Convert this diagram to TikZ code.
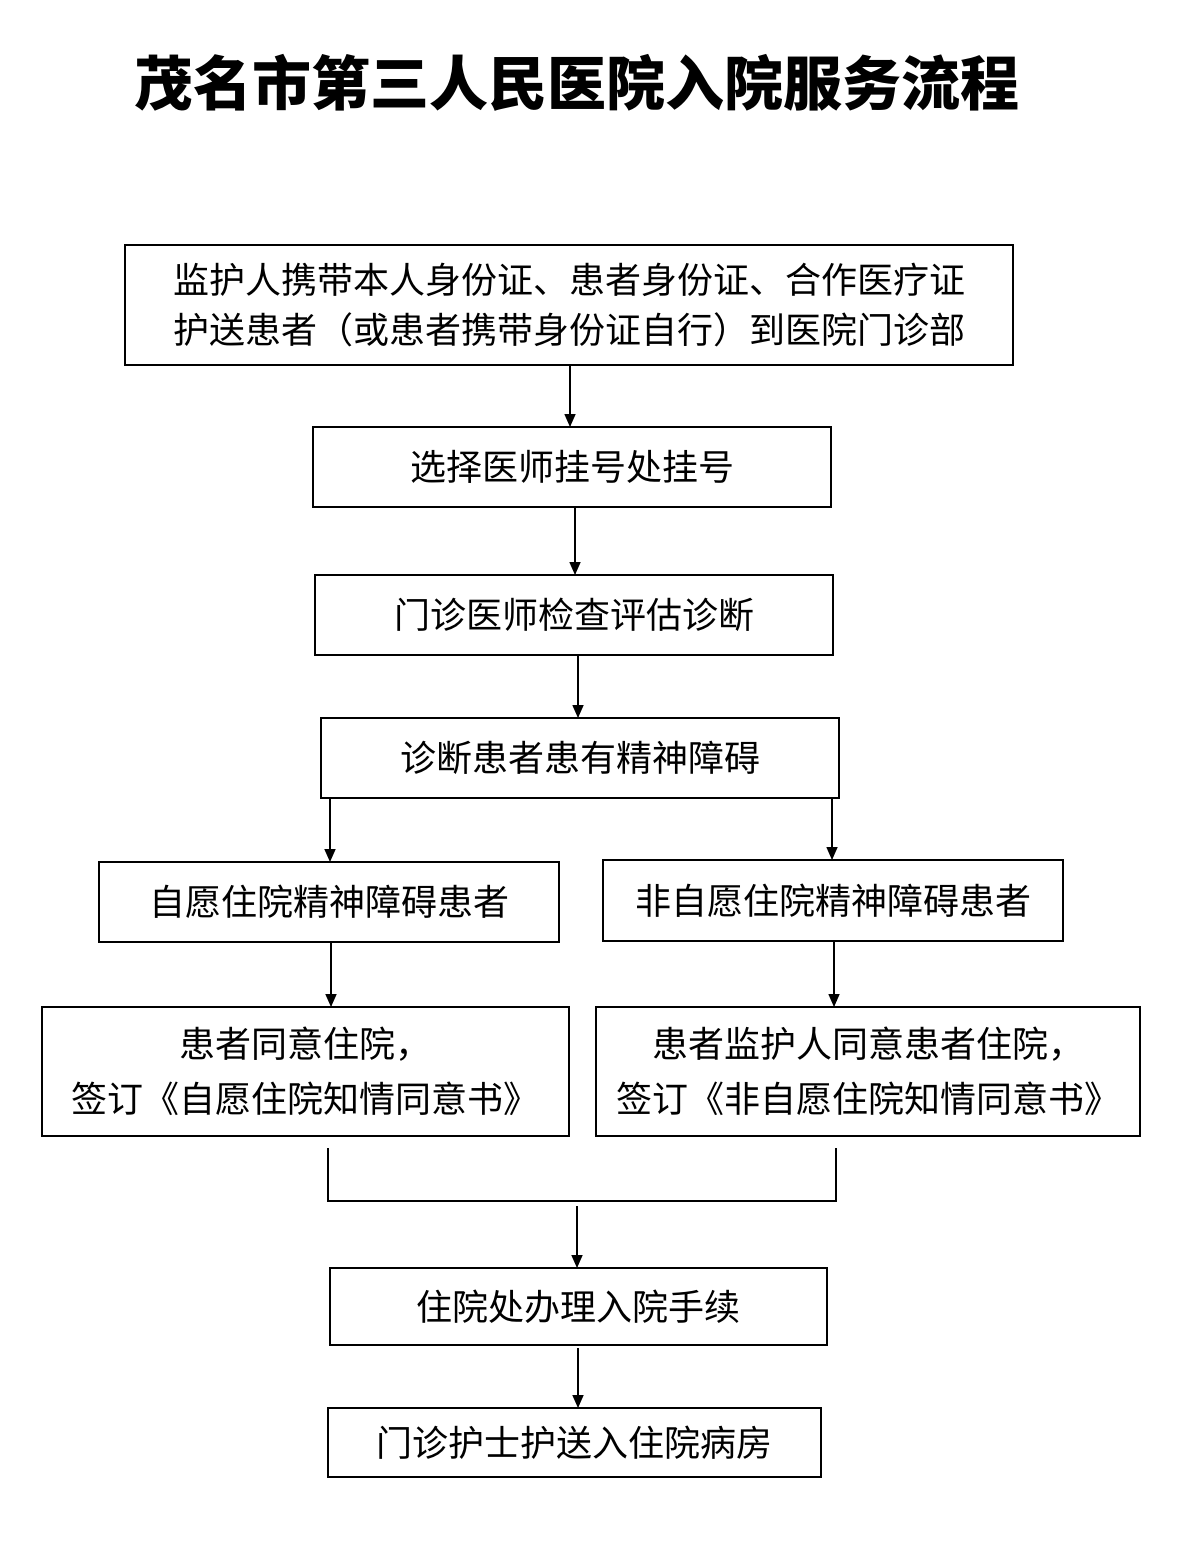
\documentclass[tikz,border=0pt]{standalone}
\usepackage{fontspec}
\setmainfont{Noto Sans CJK SC}
\usetikzlibrary{arrows.meta}
\begin{document}
\begin{tikzpicture}[x=1pt,y=-1pt,
 arr/.style={line width=1.6pt,-{Triangle[length=13pt,width=11pt]}},
 ln/.style={line width=1.6pt}]
\useasboundingbox (0,0) rectangle (1178,1544);
\fill[white] (0,0) rectangle (1178,1544);
\node[font=\fontsize{59}{62}\selectfont\bfseries] (t) at (577,83) {茂名市第三人民医院入院服务流程};
\newcommand\bx[7][50]{\draw[ln] (#3,#4) rectangle (#5,#6); \node[align=center,font=\fontsize{36}{#1}\selectfont] (#2) at ({(#3+#5)/2},{(#4+#6)/2}) {#7};}
\bx{a}{125}{245}{1013}{365}{监护人携带本人身份证、患者身份证、合作医疗证\\护送患者（或患者携带身份证自行）到医院门诊部}
\bx{b}{313}{427}{831}{507}{选择医师挂号处挂号}
\bx{c}{315}{575}{833}{655}{门诊医师检查评估诊断}
\bx{d}{321}{718}{839}{798}{诊断患者患有精神障碍}
\bx{e}{99}{862}{559}{942}{自愿住院精神障碍患者}
\bx{f}{603}{860}{1063}{941}{非自愿住院精神障碍患者}
\bx[55]{g}{42}{1007}{569}{1136}{患者同意住院，\\签订《自愿住院知情同意书》}
\bx[55]{h}{596}{1007}{1140}{1136}{患者监护人同意患者住院，\\签订《非自愿住院知情同意书》}
\bx{i}{330}{1268}{827}{1345}{住院处办理入院手续}
\bx{j}{328}{1408}{821}{1477}{门诊护士护送入住院病房}
\coordinate (p1) at (570,365); \coordinate (p2) at (570,427);
\draw[arr] (p1) -- (p2);
\coordinate (q1) at (575,507); \coordinate (q2) at (575,575);
\draw[arr] (q1) -- (q2);
\coordinate (r1) at (578,655); \coordinate (r2) at (578,718);
\draw[arr] (r1) -- (r2);
\coordinate (s1) at (330,798); \coordinate (s2) at (330,862);
\draw[arr] (s1) -- (s2);
\coordinate (u1) at (832,798); \coordinate (u2) at (832,860);
\draw[arr] (u1) -- (u2);
\coordinate (v1) at (331,942); \coordinate (v2) at (331,1007);
\draw[arr] (v1) -- (v2);
\coordinate (w1) at (834,941); \coordinate (w2) at (834,1007);
\draw[arr] (w1) -- (w2);
\coordinate (k1) at (328,1148); \coordinate (k2) at (328,1201);
\coordinate (k3) at (836,1201); \coordinate (k4) at (836,1148);
\draw[ln] (k1) -- (k2) -- (k3) -- (k4);
\coordinate (m1) at (577,1206); \coordinate (m2) at (577,1268);
\draw[arr] (m1) -- (m2);
\coordinate (n1) at (578,1348); \coordinate (n2) at (578,1408);
\draw[arr] (n1) -- (n2);
\end{tikzpicture}
\end{document}
